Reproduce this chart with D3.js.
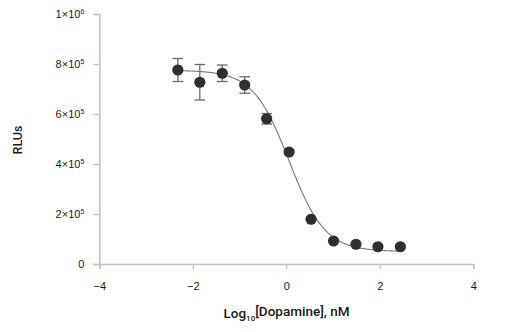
<!DOCTYPE html>
<html>
<head>
<meta charset="utf-8">
<script src="https://cdn.jsdelivr.net/npm/d3@7"></script>
<style>
  html, body { margin: 0; padding: 0; background: #fff; }
  svg { display: block; font-family: Roboto, "Noto Sans", sans-serif; }
</style>
</head>
<body>
<svg id="chart" width="515" height="332"></svg>
<script>
// Log10 dopamine concentration (nM) and luminescence readout
const logDose = [-2.32, -1.85, -1.37, -0.89, -0.42, 0.06, 0.53, 1.01, 1.49, 1.96, 2.44];
const rlu     = [776000, 727000, 763000, 716000, 581000, 448000, 179000, 92000, 79000, 69000, 69000];
const rluErr  = [46000, 71000, 33000, 33000, 21000, 0, 0, 0, 0, 0, 0];

// Four-parameter logistic fit
const fitTop = 775000, fitBottom = 50000, fitLogIC50 = 0.06, fitHill = 1.13;

const xTicks = [-4, -2, 0, 2, 4];
const yTicks = [0, 200000, 400000, 600000, 800000, 1000000];

const svg = d3.select("#chart");
const x = d3.scaleLinear().domain([-4, 4]).range([99.3, 473.3]);
const y = d3.scaleLinear().domain([0, 1000000]).range([264, 14]);

const axisColor = "#c4c4c4";
const textColor = "#1a1a1a";

// Y axis with scientific labels
const yAxis = svg.append("g")
  .attr("transform", `translate(${x(-4)},0)`)
  .call(d3.axisLeft(y).tickValues(yTicks).tickSize(6).tickPadding(9).tickFormat(""));
yAxis.select(".domain").attr("stroke", axisColor).attr("stroke-width", 1.6);
yAxis.selectAll(".tick line").attr("stroke", axisColor).attr("stroke-width", 1.3);
yAxis.selectAll(".tick text").each(function(d) {
  const t = d3.select(this).attr("fill", textColor).attr("font-size", 11).attr("dy", "0.36em");
  if (d === 0) { t.text("0"); return; }
  const exp = Math.floor(Math.log10(d));
  const mant = Math.round(d / Math.pow(10, exp));
  t.append("tspan").text(mant + "\u00d710");
  t.append("tspan").attr("font-size", 7).attr("dy", "-0.6em").text(exp);
});

// X axis
const xAxis = svg.append("g")
  .attr("transform", `translate(0,${y(0)})`)
  .call(d3.axisBottom(x).tickValues(xTicks).tickSize(5).tickPadding(13)
    .tickFormat(d => d < 0 ? "\u2212" + Math.abs(d) : String(d)));
xAxis.select(".domain").attr("stroke", axisColor).attr("stroke-width", 1.6);
xAxis.selectAll(".tick line").attr("stroke", axisColor).attr("stroke-width", 1.3);
xAxis.selectAll(".tick text").attr("fill", textColor).attr("font-size", 11);

// Axis titles
const xt = svg.append("text")
  .attr("x", 286.5).attr("y", 318)
  .attr("text-anchor", "middle")
  .attr("font-size", 13.5).attr("font-weight", 500).attr("fill", textColor);
xt.append("tspan").text("Log");
xt.append("tspan").attr("font-size", 8).attr("dy", "0.35em").text("10");
xt.append("tspan").attr("dy", "-0.35em").text("[Dopamine], nM");

svg.append("text")
  .attr("transform", "translate(22,140) rotate(-90)")
  .attr("text-anchor", "middle")
  .attr("font-size", 12.5).attr("font-weight", 500).attr("fill", textColor)
  .text("RLUs");

// Fitted dose-response curve
const logistic = v => fitBottom + (fitTop - fitBottom) / (1 + Math.pow(10, fitHill * (v - fitLogIC50)));
const curveX = d3.range(logDose[0], logDose[logDose.length - 1] + 0.001, 0.02);
svg.append("path")
  .datum(curveX)
  .attr("fill", "none").attr("stroke", "#777").attr("stroke-width", 1.1)
  .attr("d", d3.line().x(d => x(d)).y(d => y(logistic(d))));

// Error bars
const pts = logDose.map((v, i) => ({ x: v, y: rlu[i], e: rluErr[i] }));
const eb = svg.append("g").attr("stroke", "#6a6a6a").attr("stroke-width", 1.3);
pts.filter(p => p.e > 0).forEach(p => {
  eb.append("line").attr("x1", x(p.x)).attr("x2", x(p.x)).attr("y1", y(p.y - p.e)).attr("y2", y(p.y + p.e));
  [p.y - p.e, p.y + p.e].forEach(v =>
    eb.append("line").attr("x1", x(p.x) - 5.3).attr("x2", x(p.x) + 5.3).attr("y1", y(v)).attr("y2", y(v)));
});

// Data points
svg.append("g").selectAll("circle").data(pts).join("circle")
  .attr("cx", d => x(d.x)).attr("cy", d => y(d.y)).attr("r", 5.6)
  .attr("fill", "#2f2f2f");
</script>
</body>
</html>
